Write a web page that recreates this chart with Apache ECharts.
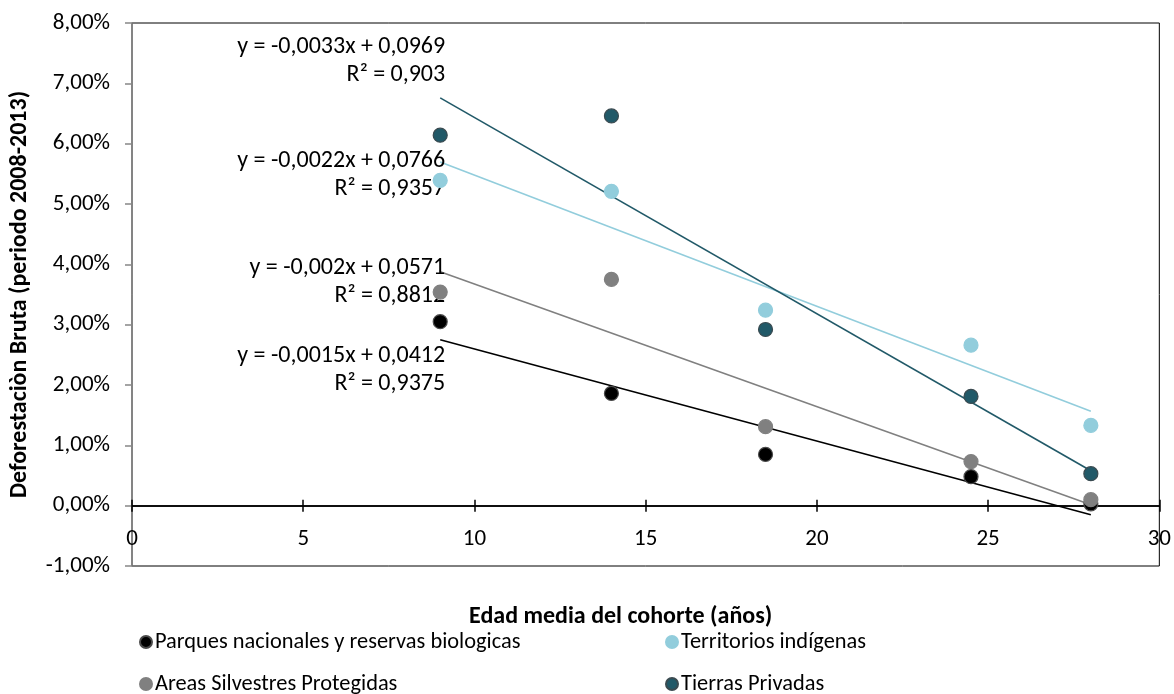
<!DOCTYPE html>
<html>
<head>
<meta charset="utf-8">
<script src="https://cdn.jsdelivr.net/npm/echarts@6/dist/echarts.min.js"></script>
<style>html,body{margin:0;padding:0;background:#fff;}#c{width:1174px;height:694px;}</style>
</head>
<body>
<div id="c"></div>
<script>
const xs = [9, 14, 18.5, 24.5, 28];
const parques = [3.05, 1.86, 0.85, 0.48, 0.03];
const areas = [3.54, 3.75, 1.31, 0.73, 0.10];
const territorios = [5.39, 5.21, 3.24, 2.66, 1.33];
const tierras = [6.14, 6.46, 2.92, 1.81, 0.53];
const seriesNames = ['Parques nacionales y reservas biologicas', 'Areas Silvestres Protegidas', 'Territorios indígenas', 'Tierras Privadas'];
const eqLabels = ['y = -0,0015x + 0,0412', 'y = -0,002x + 0,0571', 'y = -0,0022x + 0,0766', 'y = -0,0033x + 0,0969'];
const r2Labels = ['R² = 0,9375', 'R² = 0,8812', 'R² = 0,9357', 'R² = 0,903'];
const yTicks = [-1, 0, 1, 2, 3, 4, 5, 6, 7, 8];
const xTicks = [0, 5, 10, 15, 20, 25, 30];

const FONT = 'Carlito, Calibri, Lato, sans-serif';
const colors = ['#000000', '#808080', '#92CDDC', '#215968'];
const borders = ['#4a4a4a', '#808080', '#92CDDC', '#3a4a50'];
const labelOffsets = [30, 10, 13, -37];
const allY = [parques, areas, territorios, tierras];

function fit(ys) {
  const n = xs.length;
  const mx = xs.reduce((a, b) => a + b, 0) / n;
  const my = ys.reduce((a, b) => a + b, 0) / n;
  let sxy = 0, sxx = 0;
  for (let i = 0; i < n; i++) { sxy += (xs[i] - mx) * (ys[i] - my); sxx += (xs[i] - mx) * (xs[i] - mx); }
  const b = sxy / sxx; const a = my - b * mx;
  return x => a + b * x;
}

const series = [];
allY.forEach((ys, i) => {
  series.push({
    name: seriesNames[i], type: 'scatter', symbolSize: 14, z: 3,
    itemStyle: { color: colors[i], borderColor: borders[i], borderWidth: 1.2, opacity: 1 },
    data: xs.map((x, k) => [x, ys[k]])
  });
});
allY.forEach((ys, i) => {
  const f = fit(ys);
  const x0 = xs[0], x1 = xs[xs.length - 1];
  series.push({
    name: 'trend' + i, type: 'line', z: 2, symbol: 'circle', symbolSize: 0.1, showSymbol: true,
    lineStyle: { color: colors[i], width: 1.6 }, itemStyle: { color: colors[i] },
    silent: true, legendHoverLink: false,
    data: [
      { value: [x0, f(x0)], label: { show: true, position: 'left', distance: 0, align: 'right',
        offset: [5, labelOffsets[i]], formatter: eqLabels[i] + '\n' + r2Labels[i],
        color: '#000', fontSize: 24, lineHeight: 28, fontFamily: FONT } },
      [x1, f(x1)]
    ]
  });
});

const legendPos = [[134, 626], [134, 668], [660, 626], [660, 668]];
const legends = seriesNames.map((n, i) => ({
  data: [n], left: legendPos[i][0], top: legendPos[i][1], icon: 'circle', itemWidth: 12, itemHeight: 12, itemGap: 4,
  textStyle: { fontSize: 22.4, color: '#000', fontFamily: FONT, padding: [0, 0, 0, -2] }
}));

const yBase = { type: 'value', min: yTicks[0], max: yTicks[yTicks.length - 1], interval: yTicks[1] - yTicks[0] };
const xBase = { type: 'value', min: xTicks[0], max: xTicks[xTicks.length - 1], interval: xTicks[1] - xTicks[0] };

const chart = echarts.init(document.getElementById('c'));
chart.setOption({
  animation: false,
  backgroundColor: '#fff',
  textStyle: { fontFamily: FONT },
  grid: { left: 130, right: 14, top: 23, bottom: 128, show: true, borderColor: '#000', borderWidth: 1 },
  legend: legends,
  xAxis: [Object.assign({}, xBase, {
    position: 'bottom',
    axisLine: { onZero: true, onZeroAxisIndex: 0, lineStyle: { color: '#000', width: 1.5 } },
    axisTick: { show: true, length: 6, lineStyle: { color: '#000', width: 1.5 } },
    axisLabel: { fontSize: 23, color: '#000', margin: -38, fontFamily: FONT },
    splitLine: { show: false },
    name: 'Edad media del cohorte (años)', nameLocation: 'middle', nameGap: 39,
    nameTextStyle: { fontSize: 24, fontWeight: 'bold', color: '#000', fontFamily: FONT, padding: [0, 50, 0, 0] }
  }), Object.assign({}, xBase, {
    position: 'top',
    axisLine: { onZero: true, onZeroAxisIndex: 1, lineStyle: { color: '#000', width: 1.5 } },
    axisTick: { show: true, length: 6, lineStyle: { color: '#000', width: 1.5 } },
    axisLabel: { show: false }, splitLine: { show: false }
  })],
  yAxis: [Object.assign({}, yBase, {
    axisLine: { show: true, onZero: false, lineStyle: { color: '#868686', width: 1.5 } },
    axisTick: { show: true, length: 7, lineStyle: { color: '#868686', width: 1.5 } },
    axisLabel: { fontSize: 23, color: '#000', margin: 22, fontFamily: FONT,
      formatter: v => v.toFixed(2).replace('.', ',') + '%' },
    splitLine: { show: false },
    name: 'Deforestaciòn Bruta (periodo 2008-2013)', nameLocation: 'middle', nameGap: 100,
    nameTextStyle: { fontSize: 24, fontWeight: 'bold', color: '#000', fontFamily: FONT }
  }), Object.assign({}, yBase, {
    show: false, axisLine: { onZero: false }
  })],
  series: series
});
</script>
</body>
</html>
